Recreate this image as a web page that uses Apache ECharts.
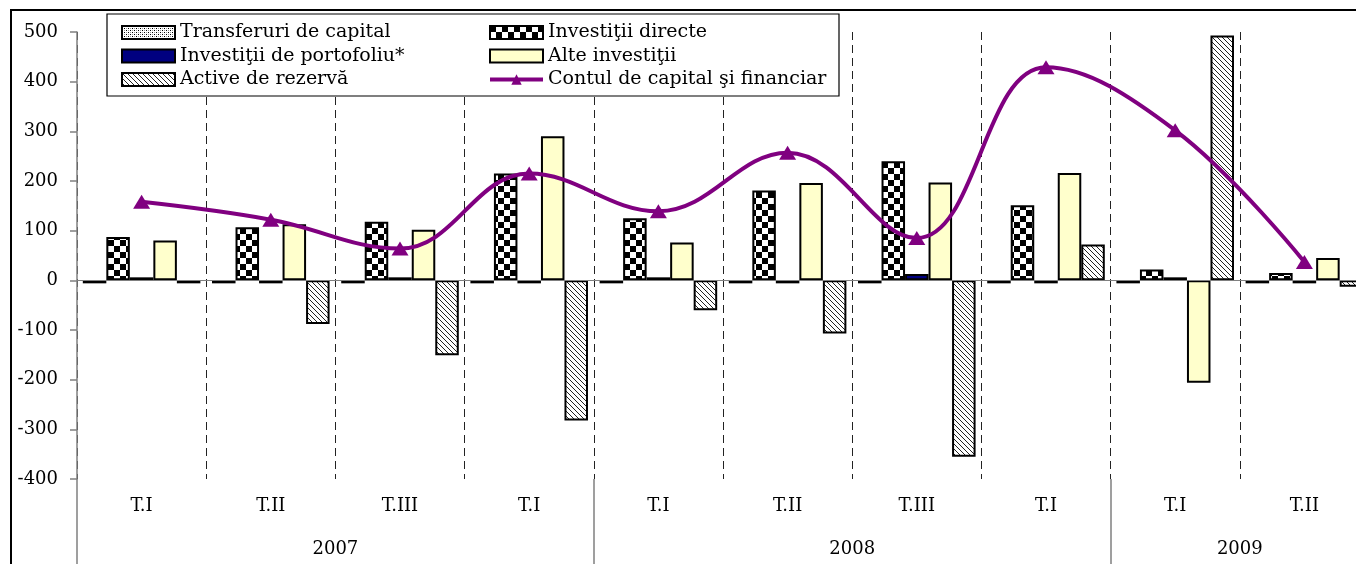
<!DOCTYPE html>
<html>
<head>
<meta charset="utf-8">
<script src="https://cdn.jsdelivr.net/npm/echarts@6/dist/echarts.min.js"></script>
<style>
  html, body { margin: 0; padding: 0; background: #fff; overflow: hidden; }
  /* the original picture is cut at its right edge, so the chart is a bit wider than the page */
  #chart { width: 1372px; height: 564px; }
</style>
</head>
<body>
<div id="chart"></div>
<script>
// quarters and years
var categories = ["T.I", "T.II", "T.III", "T.I", "T.I", "T.II", "T.III", "T.I", "T.I", "T.II"];
var years = ["2007", "2008", "2009"];
var yearCenters = [2, 6, 9]; // position of year label, in quarters from the left
var yearStarts = [0, 4, 8];  // first quarter of each year

var transferuri = [-2, -2, -1, -1, -3, -4, -3, -2, -2, -2];
var directe = [87, 107, 118, 215, 125, 181, 240, 151, 22, 15];
var portofoliu = [1, -3, 0, -1, 3, -2, 13, -4, 1, -2];
var alte = [80, 113, 102, 290, 76, 196, 197, 216, -206, 45];
var active = [-6, -88, -151, -282, -60, -107, -355, 72, 493, -13];
var contul = [158, 122, 64, 215, 139, 257, 85, 429, 302, 37];

var FONT = "DejaVu Serif";

// fill patterns
function makePattern(size, draw) {
  var c = document.createElement("canvas");
  c.width = size;
  c.height = size;
  var ctx = c.getContext("2d");
  ctx.fillStyle = "#fff";
  ctx.fillRect(0, 0, size, size);
  draw(ctx);
  return { image: c, repeat: "repeat" };
}
var dotted = makePattern(4, function (ctx) {
  ctx.fillStyle = "#000";
  ctx.fillRect(0, 0, 1, 1);
  ctx.fillRect(2, 2, 1, 1);
  ctx.fillStyle = "#999";
  ctx.fillRect(2, 0, 1, 1);
  ctx.fillRect(0, 2, 1, 1);
});
var checker = makePattern(12, function (ctx) {
  ctx.fillStyle = "#000";
  ctx.fillRect(0, 0, 6, 6);
  ctx.fillRect(6, 6, 6, 6);
});
var hatch = makePattern(5, function (ctx) {
  ctx.strokeStyle = "#222";
  ctx.lineWidth = 1;
  ctx.beginPath();
  ctx.moveTo(-1, -1); ctx.lineTo(6, 6);
  ctx.moveTo(-1, 4); ctx.lineTo(1, 6);
  ctx.moveTo(4, -1); ctx.lineTo(6, 1);
  ctx.stroke();
});

function barSeries(name, data, color) {
  return {
    name: name,
    type: "bar",
    data: data,
    barGap: "0%",
    barCategoryGap: "9%",
    barMinHeight: 3,
    itemStyle: { color: color, borderColor: "#000", borderWidth: 2 },
    emphasis: { disabled: true }
  };
}

var chart = echarts.init(document.getElementById("chart"));

var series = [
  barSeries("Transferuri de capital", transferuri, dotted),
  barSeries("Investiţii directe", directe, checker),
  barSeries("Investiţii de portofoliu*", portofoliu, "#000080"),
  barSeries("Alte investiţii", alte, "#FFFFCC"),
  barSeries("Active de rezervă", active, hatch),
  {
    name: "Contul de capital şi financiar",
    type: "line",
    data: contul,
    smooth: 0.4,
    symbol: "triangle",
    symbolSize: [17, 14],
    z: 5,
    lineStyle: { color: "#800080", width: 4 },
    itemStyle: { color: "#800080" },
    emphasis: { disabled: true }
  }
];
// zero line
series[0].markLine = {
  silent: true,
  symbol: ["none", "none"],
  label: { show: false },
  lineStyle: { color: "#808080", type: "solid", width: 1 },
  data: [{ yAxis: 0 }]
};

var legendCommon = {
  orient: "vertical",
  top: 23,
  padding: 0,
  itemWidth: 53,
  itemHeight: 13,
  itemGap: 4.5,
  selectedMode: false,
  z: 10,
  textStyle: { fontFamily: FONT, fontSize: 19, color: "#000", lineHeight: 19 }
};

var option = {
  animation: false,
  backgroundColor: "#fff",
  grid: { left: 77, right: 3, top: 32, bottom: 85 },
  legend: [
    Object.assign({
      left: 121,
      data: [
        { name: "Transferuri de capital", icon: "rect" },
        { name: "Investiţii de portofoliu*", icon: "rect" },
        { name: "Active de rezervă", icon: "rect" }
      ]
    }, legendCommon),
    Object.assign({
      left: 488,
      data: [
        { name: "Investiţii directe", icon: "rect" },
        { name: "Alte investiţii", icon: "rect" },
        { name: "Contul de capital şi financiar", lineStyle: { width: 4 } }
      ]
    }, legendCommon)
  ],
  graphic: [
    {
      type: "rect",
      z: 1,
      shape: { x: 107, y: 14, width: 732, height: 82 },
      style: { fill: "#fff", stroke: "#000", lineWidth: 1.2 }
    },
    {
      type: "rect",
      z: 1,
      shape: { x: 11, y: 10, width: 1400, height: 600 },
      style: { fill: "none", stroke: "#000", lineWidth: 2 }
    }
  ],
  xAxis: [
    {
      type: "category",
      data: categories,
      position: "bottom",
      axisLine: { show: false, onZero: false },
      axisTick: {
        show: true,
        length: 95,
        interval: function (i) { return yearStarts.indexOf(i) >= 0; },
        lineStyle: { color: "#808080", width: 1.5 }
      },
      axisLabel: { fontFamily: FONT, fontSize: 18, color: "#000", margin: 18, interval: 0 },
      splitLine: { show: true, interval: 0, lineStyle: { color: "#222", type: [8, 5], width: 1 } }
    },
    {
      type: "value",
      min: 0,
      max: 10,
      interval: 1,
      position: "bottom",
      axisLine: { show: false, onZero: false },
      axisTick: { show: false },
      splitLine: { show: false },
      axisLabel: {
        fontFamily: FONT,
        fontSize: 18,
        color: "#000",
        margin: 61,
        showMinLabel: true,
        showMaxLabel: true,
        formatter: function (v) {
          var k = yearCenters.indexOf(v);
          return k >= 0 ? years[k] : "";
        }
      }
    }
  ],
  yAxis: {
    type: "value",
    min: -400,
    max: 500,
    interval: 100,
    axisLine: { show: true, lineStyle: { color: "#808080", width: 1.5 } },
    axisTick: { show: true, length: 7, lineStyle: { color: "#808080", width: 1.5 } },
    axisLabel: { fontFamily: FONT, fontSize: 18, color: "#000", margin: 19 },
    splitLine: { show: false }
  },
  series: series
};

chart.setOption(option);
</script>
</body>
</html>
